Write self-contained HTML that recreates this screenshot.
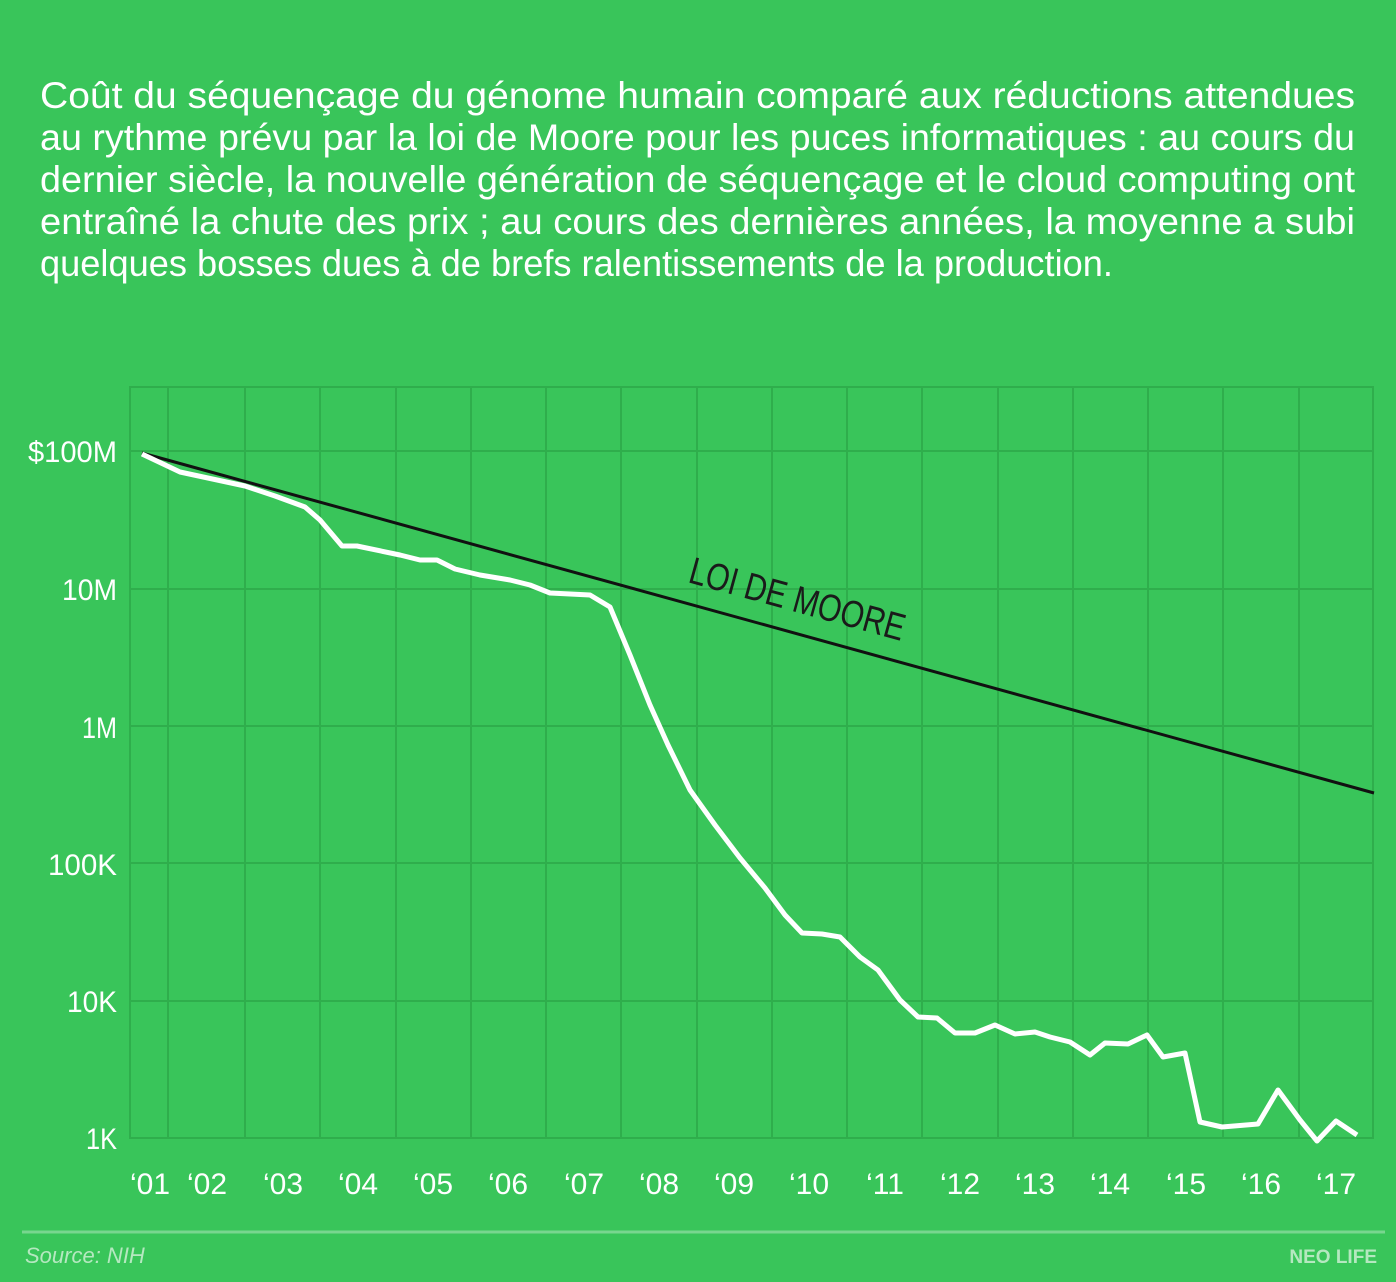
<!DOCTYPE html>
<html><head><meta charset="utf-8"><style>html,body{margin:0;padding:0;background:#39c55a}svg{display:block}</style></head>
<body>
<svg width="1396" height="1282" viewBox="0 0 1396 1282" xmlns="http://www.w3.org/2000/svg">
<rect width="1396" height="1282" fill="#39c55a"/>
<g font-family="Liberation Sans, sans-serif" font-size="37" fill="#fff">
<text x="40" y="108" textLength="1315" lengthAdjust="spacingAndGlyphs">Coût du séquençage du génome humain comparé aux réductions attendues</text>
<text x="40" y="150" textLength="1315" lengthAdjust="spacingAndGlyphs">au rythme prévu par la loi de Moore pour les puces informatiques : au cours du</text>
<text x="40" y="192" textLength="1315" lengthAdjust="spacingAndGlyphs">dernier siècle, la nouvelle génération de séquençage et le cloud computing ont</text>
<text x="40" y="234" textLength="1315" lengthAdjust="spacingAndGlyphs">entraîné la chute des prix ; au cours des dernières années, la moyenne a subi</text>
<text x="40" y="276" textLength="1073" lengthAdjust="spacingAndGlyphs">quelques bosses dues à de brefs ralentissements de la production.</text>
</g>
<g stroke="#2fae4c" stroke-width="2" fill="none">
<rect x="130" y="387" width="1243" height="751"/>
<path d="M168 387V1138M245 387V1138M320 387V1138M396 387V1138M471 387V1138M546 387V1138M621 387V1138M697 387V1138M772 387V1138M847 387V1138M922 387V1138M998 387V1138M1073 387V1138M1148 387V1138M1223 387V1138M1299 387V1138"/>
<path d="M130 451H1373M130 589H1373M130 726H1373M130 863H1373M130 1001H1373"/>
</g>
<line x1="142" y1="453" x2="1374" y2="793" stroke="#111" stroke-width="3"/>
<polyline fill="none" stroke="#fff" stroke-width="5" stroke-linejoin="round" points="142,454 180,472 245,486 275,496 305,507 320,520 342,546 357,546 400,555 420,560 437,560 455,569 480,575 510,580 530,585 550,593 590,595 610,607 630,655 650,705 668,745 690,790 715,825 740,858 765,888 785,915 802,933 822,934 840,937 860,957 878,970 900,1000 918,1017 937,1018 955,1033 975,1033 995,1025 1015,1034 1035,1032 1050,1037 1070,1042 1090,1055 1105,1043 1128,1044 1147,1035 1163,1057 1185,1053 1200,1122 1222,1127 1258,1124 1278,1090 1300,1120 1317,1141 1336,1121 1357,1135"/>
<text x="687" y="582" font-family="Liberation Sans, sans-serif" font-size="38" fill="#1a1a1a" transform="rotate(15.4 687 582)" textLength="222" lengthAdjust="spacingAndGlyphs">LOI DE MOORE</text>
<g font-family="Liberation Sans, sans-serif" font-size="30" fill="#fff" lengthAdjust="spacingAndGlyphs">
<text x="28" y="462" textLength="89" lengthAdjust="spacingAndGlyphs">$100M</text>
<text x="62" y="600" textLength="55" lengthAdjust="spacingAndGlyphs">10M</text>
<text x="82" y="738" textLength="35" lengthAdjust="spacingAndGlyphs">1M</text>
<text x="48" y="875" textLength="69" lengthAdjust="spacingAndGlyphs">100K</text>
<text x="67" y="1012" textLength="50" lengthAdjust="spacingAndGlyphs">10K</text>
<text x="86" y="1149" textLength="31" lengthAdjust="spacingAndGlyphs">1K</text>
</g>
<g font-family="Liberation Sans, sans-serif" font-size="30" fill="#fff" text-anchor="middle">
<text x="150" y="1194">‘01</text><text x="207" y="1194">‘02</text><text x="283" y="1194">‘03</text><text x="358" y="1194">‘04</text><text x="433" y="1194">‘05</text><text x="508" y="1194">‘06</text><text x="584" y="1194">‘07</text><text x="659" y="1194">‘08</text><text x="734" y="1194">‘09</text><text x="809" y="1194">‘10</text><text x="885" y="1194">‘11</text><text x="960" y="1194">‘12</text><text x="1035" y="1194">‘13</text><text x="1110" y="1194">‘14</text><text x="1186" y="1194">‘15</text><text x="1261" y="1194">‘16</text><text x="1336" y="1194">‘17</text>
</g>
<line x1="22" y1="1232" x2="1385" y2="1232" stroke="#78d68f" stroke-width="3"/>
<text x="25" y="1263" font-family="Liberation Sans, sans-serif" font-style="italic" font-size="22" fill="#b5e8c0">Source: NIH</text>
<text x="1377" y="1263" font-family="Liberation Sans, sans-serif" font-weight="bold" font-size="19" fill="#b5e8c0" text-anchor="end">NEO LIFE</text>
</svg>
</body></html>
